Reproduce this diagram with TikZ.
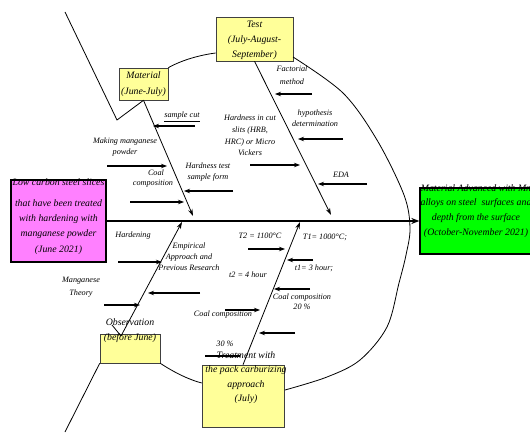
\documentclass[tikz,border=0pt]{standalone}
\usepackage{fontspec}
\setmainfont{Liberation Serif}
\usetikzlibrary{positioning,arrows.meta}

\begin{document}
\begin{tikzpicture}[x=1pt, y=-1pt,
    spine/.style={line width=1.6pt, -{Stealth[length=8pt,width=6pt]}},
    bone/.style={line width=0.8pt, -{Stealth[length=7pt,width=4.5pt]}},
    cause/.style={line width=1.3pt, -{Stealth[length=6pt,width=4.5pt]}},
    rim/.style={line width=0.8pt},
    phasebox/.style={draw=black!75, line width=0.6pt, fill=phaseyellow, inner sep=0pt},
    lbl/.style={align=center, inner sep=0pt, font=\itshape\fontsize{8.2}{11}\selectfont},
    boxtxt/.style={align=center, inner sep=0pt, font=\itshape\fontsize{9.8}{15}\selectfont}]
  % Define colors
  \definecolor{steelpink}{HTML}{FF80FF}   % input box
  \definecolor{resultgreen}{HTML}{00FF00} % result box
  \definecolor{phaseyellow}{HTML}{FFFF99} % phase boxes

  \clip (0,0) rectangle (530,433);

  % Head and tail boxes
  \node[draw, line width=1.3pt, fill=steelpink, minimum width=95, minimum height=82, inner sep=0pt] (steel) at (58.5,221) {};
  \node[draw, line width=1.3pt, fill=resultgreen, minimum width=113, minimum height=66, inner sep=0pt] (result) at (476.5,221) {};

  % Phase boxes
  \node[phasebox, minimum width=77, minimum height=44] (testbox) at (254.5,39) {};
  \node[phasebox, minimum width=49, minimum height=32] (matbox) at (143.5,84) {};
  \node[phasebox, minimum width=60, minimum height=29] (obsbox) at (130,348.5) {};
  \node[phasebox, minimum width=82, minimum height=62] (trbox) at (243,396) {};

  % Rim round the bones
  \draw[rim] (matbox.north east) .. controls (182,60) and (200,55) .. ([yshift=-14pt]testbox.west);
  \draw[rim] plot[smooth, tension=0.55] coordinates {(293,57) (343,93) (377,140) (404,195) (410,228) (406,255) (399,283) (387,327) (360,360) (327,377) (285,390)};
  \draw[rim] (obsbox.south east) .. controls (175,373) and (190,380) .. ([yshift=13pt]trbox.west);

  % Spine
  \draw[spine] (steel.east) -- (result.west);

  % Bones
  \coordinate (zigtop) at (65,12);
  \coordinate (zigbend) at (117,120);
  \coordinate (matend) at (193,216);
  \coordinate (testend) at (331,215);
  \coordinate (obsstart) at (121,336);
  \coordinate (obstick) at (112,325);
  \coordinate (obsend) at (182,222);
  \coordinate (trend) at (300,222);
  \coordinate (tailend) at (65,432);
  \draw[rim] (zigtop) -- (zigbend) -- (matbox.south);
  \draw[bone] (matbox.south) -- (matend);
  \draw[bone] (testbox.south) -- (testend);
  \draw[rim] (obstick) -- (obsstart);
  \draw[bone] (obsstart) -- (obsend);
  \draw[rim] (tailend) -- (obsbox.south west);
  \draw[bone] (trbox.north) -- (trend);

  % Cause arrows
  \foreach \n/\sx/\tx/\yy in {cut/195/153/126, pow/107/167/166, htest/233/184/191, coal/130/184/202,
      fact/312/275/94, hypo/343/298/139, hcut/250/300/165, eda/367/318/184,
      hard/118/162/262, emp/200/148/293, mnth/104/140/305,
      ttwo/248/285/249, tone/313/287/260, coalr/310/274/289, coall/225/260/310, extra/295/259/333}{
    \coordinate (\n S) at (\sx,\yy);
    \coordinate (\n T) at (\tx,\yy);
    \draw[cause] (\n S) -- (\n T);
  }
  \coordinate (thirtyS) at (205,356);
  \coordinate (thirtyT) at (240,356);
  \draw[line width=1.3pt] (thirtyS) -- (thirtyT);

  % Box texts
  \node[boxtxt] (steeltop) at (58.5,182) {Low carbon steel slices};
  \node[boxtxt] (steeltxt) at (58.5,219) {that have been treated\\with hardening with\\manganese powder};
  \node[boxtxt] (steeldate) at (58.5,250) {(June 2021)};
  \node[boxtxt] (resulttop) at (476,188) {Material Advanced with Mn};
  \node[boxtxt] (resulttxt) at (476,218) {alloys on steel\ \ surfaces and\\depth from the surface\\(October-November 2021)};
  \node[boxtxt] (testtxt) at (254.5,40) {Test\\(July-August-\\September)};
  \node[boxtxt, font=\itshape\fontsize{9.8}{16}\selectfont] (mattxt) at (143.5,84) {Material\\(June-July)};
  \node[boxtxt] (obstxt) at (130,330.5) {Observation\\(before June)};
  \node[boxtxt] (trtop) at (246,355) {Treatment with};
  \node[boxtxt, font=\itshape\fontsize{9.8}{14.5}\selectfont] (trtxt) at (246,385) {the pack carburizing\\approach\\(July)};

  % Cause labels
  \node[lbl] (cutlbl) at (182,117) {\underline{sample cut}};
  \node[lbl] (powlbl) at (125,147) {Making manganese\\powder};
  \node[lbl] (coallbl) at (156,173) {Coal};
  \node[lbl] (coallblb) at (153,184) {composition};
  \node[lbl] (htestlbl) at (208,172) {Hardness test\\sample form};
  \node[lbl, font=\itshape\fontsize{8.2}{11.7}\selectfont] (hcutlbl) at (250,135.5) {Hardness in cut\\slits (HRB,\\HRC) or Micro\\Vickers};
  \node[lbl, font=\itshape\fontsize{8.2}{13}\selectfont] (factlbl) at (292,75) {Factorial\\method};
  \node[lbl] (hypolbl) at (315,118) {hypothesis\\determination};
  \node[lbl] (edalbl) at (341,175) {EDA};
  \node[lbl] (hardlbl) at (133,236) {Hardening};
  \node[lbl] (emplbl) at (189,257) {Empirical\\Approach and\\Previous Research};
  \node[lbl, font=\itshape\fontsize{8.2}{13}\selectfont] (mnthlbl) at (81,287) {Manganese\\Theory};
  \node[lbl] (ttwolbl) at (260,236) {T2 = 1100°C};
  \node[lbl] (tonelbl) at (325,237) {T1= 1000°C;};
  \node[lbl] (t2lbl) at (248,275) {t2 = 4 hour};
  \node[lbl] (t1lbl) at (314,268) {t1= 3 hour;};
  \node[lbl] (coalllbl) at (223,315) {Coal composition};
  \node[lbl, font=\itshape\fontsize{8.2}{10}\selectfont] (coalrlbl) at (302,302) {Coal composition\\20 \%};
  \node[lbl] (thirtylbl) at (225,344) {30 \%};
\end{tikzpicture}
\end{document}
